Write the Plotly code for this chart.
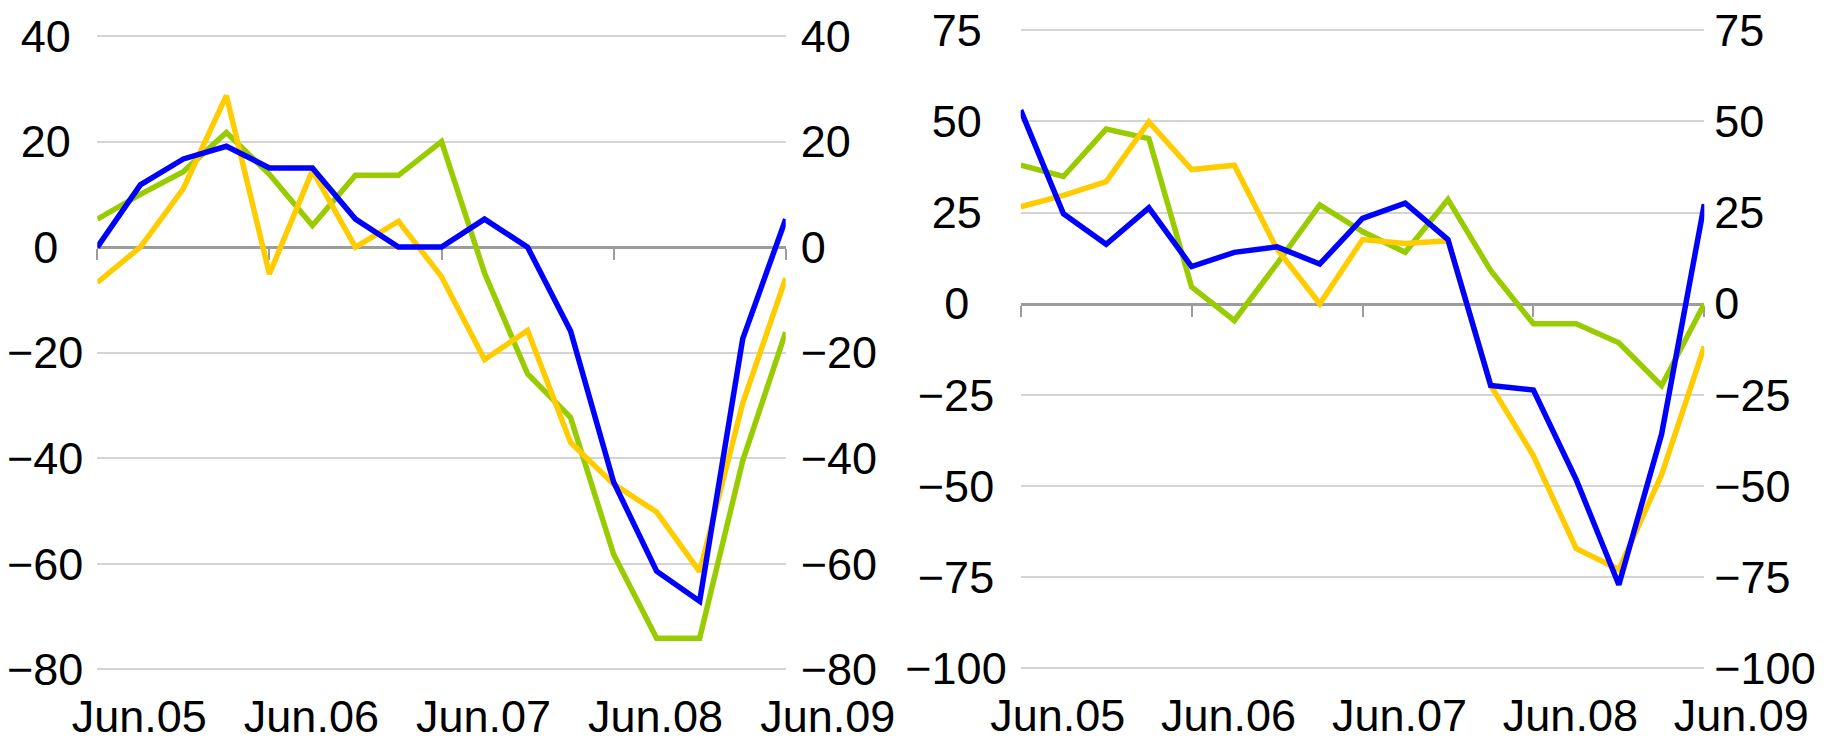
import plotly.graph_objects as go

# ---------------- data ----------------
quarters = ["Jun.05", "Sep.05", "Dec.05", "Mar.06", "Jun.06", "Sep.06", "Dec.06", "Mar.07",
            "Jun.07", "Sep.07", "Dec.07", "Mar.08", "Jun.08", "Sep.08", "Dec.08", "Mar.09", "Jun.09"]
year_ticks = ["Jun.05", "Jun.06", "Jun.07", "Jun.08", "Jun.09"]

left_blue = [0, 11.8, 16.7, 19.1, 15.0, 15.0, 5.3, 0, 0, 5.3, 0, -15.9, -44.5, -61.4, -67.1, -17.4, 5.3]
left_green = [5.3, 10.0, 14.3, 21.7, 13.8, 4.1, 13.6, 13.6, 20.0, -4.9, -24.0, -32.3, -58.2, -74.1, -74.1, -40.5, -16.1]
left_yellow = [-6.7, 0, 11.1, 28.7, -5.1, 14.5, 0, 4.9, -5.6, -21.3, -15.8, -37.0, -44.9, -50.2, -61.5, -29.6, -5.9]

right_blue = [53.1, 24.7, 16.3, 26.3, 10.2, 14.1, 15.6, 10.9, 23.4, 27.6, 17.6, -22.4, -23.7, -48.2, -77.1, -35.8, 27.3]
right_green = [38.0, 34.9, 47.9, 45.3, 4.6, -4.6, 11.0, 27.1, 19.8, 14.1, 28.6, 9.1, -5.5, -5.5, -10.7, -22.5, 0]
right_yellow = [26.6, 29.7, 33.5, 49.9, 36.8, 38.0, 15.0, 0, 17.6, 16.5, 17.3, -22.4, -41.7, -67.1, -72.9, -46.9, -11.7]

left_yticks = [40, 20, 0, -20, -40, -60, -80]
right_yticks = [75, 50, 25, 0, -25, -50, -75, -100]

# ---------------- style ----------------
BLUE, GREEN, YELLOW = "#0000FF", "#99CC00", "#FFCC00"
FONT = "Liberation Sans"
FS = 45
GRID = "#d4d4d4"
ZERO = "#9c9c9c"
LW = 5.5
W, H = 1833, 742

xs = list(range(len(quarters)))
tickpos = [quarters.index(t) for t in year_ticks]


def lab(v):
    return str(v).replace("-", "\u2212")


def centered(vals):
    # emulate centred labels on a right-aligned axis with non-breaking spaces
    def w(s):
        return sum(0.584 if c == "\u2212" else 0.556 for c in s)
    texts = [lab(v) for v in vals]
    wmax = max(w(t) for t in texts)
    out = []
    for t in texts:
        n = int(round((wmax - w(t)) / 2 / 0.278))
        out.append(t + "\u00a0" * n)
    return out


def ydomain(top_px, bot_px, lo, hi, pad):
    # domain so that value hi sits at top_px and lo at bot_px, with a small range pad
    ppu = (bot_px - top_px) / (hi - lo)
    return [1 - (bot_px + pad * ppu) / H, 1 - (top_px - pad * ppu) / H], [lo - pad, hi + pad]


fig = go.Figure()

for y, c in [(left_green, GREEN), (left_yellow, YELLOW), (left_blue, BLUE)]:
    fig.add_trace(go.Scatter(x=xs, y=y, mode="lines", line=dict(color=c, width=LW),
                             xaxis="x3", yaxis="y3", showlegend=False, hoverinfo="skip"))
for y, c in [(right_green, GREEN), (right_yellow, YELLOW), (right_blue, BLUE)]:
    fig.add_trace(go.Scatter(x=xs, y=y, mode="lines", line=dict(color=c, width=LW),
                             xaxis="x4", yaxis="y4", showlegend=False, hoverinfo="skip"))
# invisible traces to create the base subplots (labels + grid)
for xa, ya in [("x", "y"), ("x2", "y2")]:
    fig.add_trace(go.Scatter(x=[xs[0]], y=[0], mode="markers", marker=dict(opacity=0),
                             xaxis=xa, yaxis=ya, showlegend=False, hoverinfo="skip"))

LXD = [97.3 / W, 785.7 / W]
RXD = [1020.7 / W, 1704.3 / W]
LYD, LR = ydomain(36.0, 669.3, min(left_yticks), max(left_yticks), 0.5)
RYD, RR = ydomain(30.3, 668.3, min(right_yticks), max(right_yticks), 0.7)


def zero_pos(dom, rng):
    return dom[0] + (0 - rng[0]) / (rng[1] - rng[0]) * (dom[1] - dom[0])


font = dict(family=FONT, size=FS, color="black")

xcommon = dict(range=[0, len(quarters) - 1], tickvals=tickpos, ticktext=year_ticks,
               showgrid=False, zeroline=False, showline=False, ticks="", automargin=False,
               tickfont=font, ticklabelstandoff=14)
zcommon = dict(range=[0, len(quarters) - 1], tickvals=tickpos, showgrid=False, zeroline=False,
               showline=True, linecolor=ZERO, linewidth=3, ticks="outside", ticklen=11,
               tickwidth=2, tickcolor=ZERO, showticklabels=False, layer="below traces",
               anchor="free", automargin=False)
ycommon = dict(showgrid=True, gridcolor=GRID, gridwidth=1.5, zeroline=False, ticks="",
               tickfont=font, automargin=False, showline=False)
yrcommon = dict(side="right", showgrid=False, zeroline=False, ticks="", tickfont=font,
                automargin=False, showline=False)

fig.update_layout(
    width=W, height=H, autosize=False,
    margin=dict(l=0, r=0, t=0, b=0, autoexpand=False),
    paper_bgcolor="white", plot_bgcolor="white",
    font=font,
    xaxis=dict(domain=LXD, anchor="y", ticklabelshift=42, **xcommon),
    xaxis2=dict(domain=RXD, anchor="y2", ticklabelshift=37, **xcommon),
    xaxis3=dict(domain=LXD, overlaying="x", position=zero_pos(LYD, LR), **zcommon),
    xaxis4=dict(domain=RXD, overlaying="x2", position=zero_pos(RYD, RR), **zcommon),
    yaxis=dict(domain=LYD, anchor="x", range=LR, tickvals=left_yticks,
               ticktext=centered(left_yticks), ticklabelstandoff=13, **ycommon),
    yaxis2=dict(domain=RYD, anchor="x2", range=RR, tickvals=right_yticks,
                ticktext=centered(right_yticks), ticklabelstandoff=13, **ycommon),
    yaxis3=dict(domain=LYD, anchor="x3", overlaying="y", range=LR, tickvals=left_yticks,
                ticktext=[lab(v) for v in left_yticks], ticklabelstandoff=14, **yrcommon),
    yaxis4=dict(domain=RYD, anchor="x4", overlaying="y2", range=RR, tickvals=right_yticks,
                ticktext=[lab(v) for v in right_yticks], ticklabelstandoff=9, **yrcommon),
)

fig.write_html("out.html", config={"displayModeBar": False},
               post_script="document.body.style.margin='0';")
